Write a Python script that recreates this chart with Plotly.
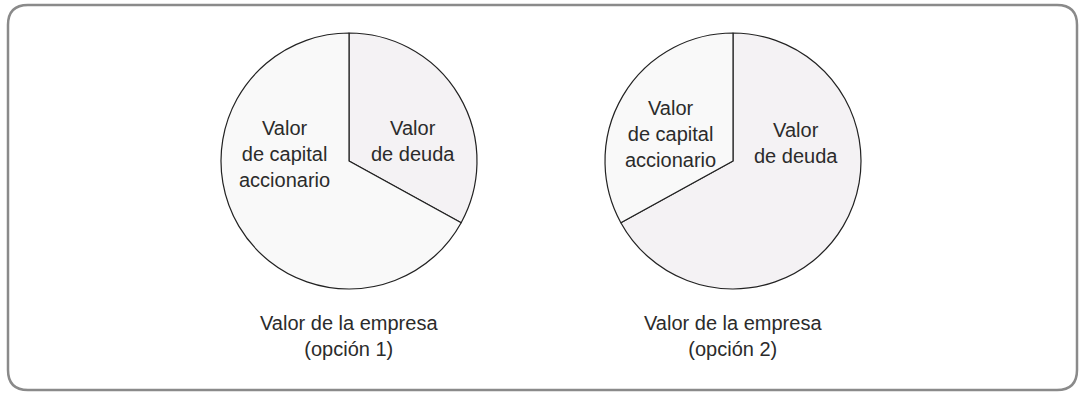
import plotly.graph_objects as go

# Datos: reparto del valor de la empresa (fracción del círculo)
componentes = ["Valor<br>de deuda", "Valor<br>de capital<br>accionario"]
opcion_1 = [33, 67]      # deuda, capital
opcion_2 = [67, 33]      # deuda, capital
titulos = ["Valor de la empresa<br>(opción 1)", "Valor de la empresa<br>(opción 2)"]

color_deuda = "#f4f2f4"
color_capital = "#f9f9f9"
texto = "#2b2b2b"

W, H = 1085, 395
R = 128
centros = [(349, 161), (733, 161)]


def dominio(cx, cy):
    return dict(x=[(cx - R) / W, (cx + R) / W],
                y=[(H - cy - R) / H, (H - cy + R) / H])


fig = go.Figure()

# ambas opciones: deuda desde las 12 en sentido horario
for valores, (cx, cy) in zip([opcion_1, opcion_2], centros):
    fig.add_trace(go.Pie(
        labels=componentes, values=valores, sort=False, direction="clockwise",
        rotation=0, textinfo="none", hoverinfo="label+percent",
        marker=dict(colors=[color_deuda, color_capital], line=dict(color="#222222", width=1.2)),
        domain=dominio(cx, cy), showlegend=False,
    ))

fuente = dict(family="Liberation Sans, Arial, sans-serif", size=20, color=texto)

# etiquetas dentro de los pasteles (posiciones en píxeles)
etiquetas = [
    (285, 154, componentes[1]),
    (413, 141, componentes[0]),
    (670, 134, componentes[1]),
    (796, 143, componentes[0]),
]
for x, y, t in etiquetas:
    fig.add_annotation(x=x / W, y=1 - y / H, xref="paper", yref="paper",
                       xanchor="center", yanchor="middle",
                       text=t, showarrow=False, font=fuente, align="center")

for (cx, cy), t in zip(centros, titulos):
    fig.add_annotation(x=cx / W, y=1 - 336 / H, xref="paper", yref="paper",
                       xanchor="center", yanchor="middle",
                       text=t, showarrow=False, font=fuente, align="center")

# marco redondeado
r = 20
x0, y0, x1, y1 = 8, 5, 1077, 390
path = (f"M {x0 + r},{y0} L {x1 - r},{y0} Q {x1},{y0} {x1},{y0 + r} "
        f"L {x1},{y1 - r} Q {x1},{y1} {x1 - r},{y1} L {x0 + r},{y1} "
        f"Q {x0},{y1} {x0},{y1 - r} L {x0},{y0 + r} Q {x0},{y0} {x0 + r},{y0} Z")
fig.update_layout(
    width=W, height=H,
    margin=dict(l=0, r=0, t=0, b=0),
    paper_bgcolor="white", plot_bgcolor="white",
    xaxis=dict(visible=False, range=[0, W]),
    yaxis=dict(visible=False, range=[H, 0]),
    shapes=[dict(type="path", xref="x", yref="y", path=path,
                 line=dict(color="#8a8a8a", width=2.5), layer="below")],
)

fig.write_html("out.html", config={"displayModeBar": False},
               post_script="document.body.style.margin='0';")
